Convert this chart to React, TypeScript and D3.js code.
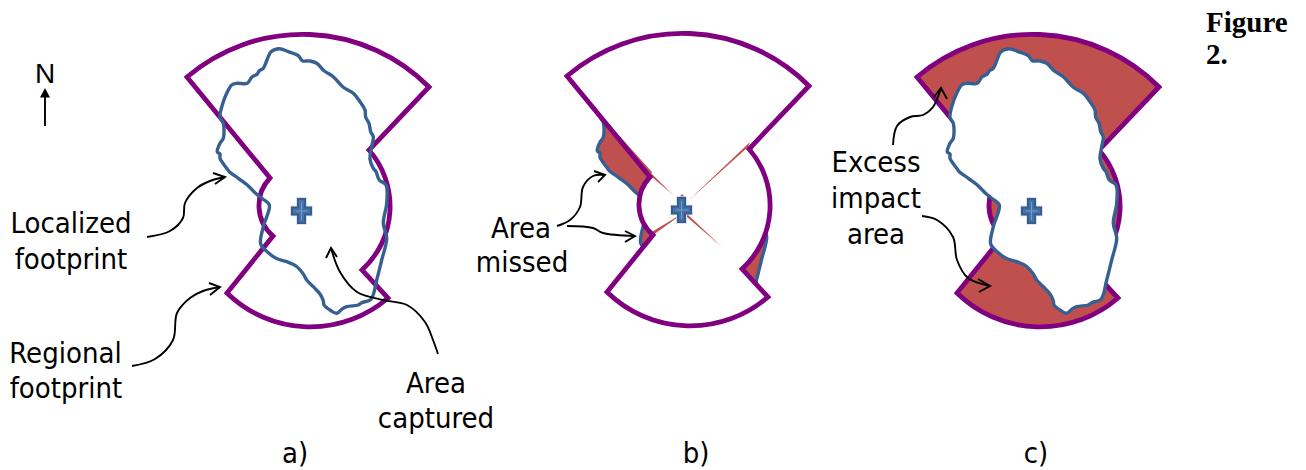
import React from 'react';
import * as d3 from 'd3';

const width = 1306;
const height = 470;

type Pt = [number, number];

// all outlines are read in the frame of panel a), the others are shifted copies
const panelNames = ['a)', 'b)', 'c)'];
const panelShiftX = [0, 380, 730];
const panelShiftY = [0, -1, 0];
const panelLabelX = [295, 696, 1036];

// corners of the regional footprint, clockwise from the NW corner
const regionalCorners: Pt[] = [[187, 77], [429, 87], [369, 150], [362, 270], [388, 298], [227, 293], [273, 236], [270, 178]];
// arc radius leaving each corner, 0 means straight edge
const regionalArcRadii = [178, 0, 86, 0, 119, 0, 40, 0];

const localizedOutline: Pt[] = [
  [279.3, 48.7], [288.3, 51.7], [298.3, 55.7], [302.3, 60.7], [310, 61], [316.7, 63.3], [324, 70.7], [333.3, 76.7],
  [343.3, 87.3], [353.3, 93.3], [360, 101.7], [365, 110], [365.7, 117.3], [369, 123.3], [370.7, 131.7], [373.3, 136.7],
  [371.7, 146.7], [370, 159.3], [373.3, 168.3], [376, 171.7], [379.3, 180], [386, 185], [386.7, 203.3], [383.3, 223.3],
  [386.7, 238.3], [381.7, 260], [376.7, 280], [371, 299.3], [361.7, 302.7], [358.3, 305], [346.7, 306.7], [341.7, 309.3],
  [336.7, 313.3], [330, 310], [324, 305], [323.3, 300.7], [320, 294], [313.3, 286.7], [306.7, 280], [303.3, 274],
  [296, 266], [286.7, 261.7], [276, 258.3], [268.3, 252.7], [260.7, 244], [263.3, 226.7], [269.3, 205], [261.7, 198.3],
  [255, 192.7], [247.3, 185], [238.3, 178.3], [229.3, 171.7], [226.7, 168.3], [220, 158.3], [220, 154], [217.3, 152],
  [220, 143.3], [223.3, 138.3], [223.3, 123.3], [220, 117.3], [222.3, 105], [226.7, 93.3], [231.7, 85], [236.7, 83.3],
  [247.3, 83.3], [251.7, 77.3], [257.3, 74], [259.3, 70.7], [263.3, 68.3], [266.7, 60.7], [271, 51.7],
];

// thin slivers left over in panel b)
const missedSlivers: Pt[][] = [
  [[270, 173], [293, 196], [272, 178]],
  [[225, 121], [272, 173], [270, 176]],
  [[305, 213], [342, 248], [307, 218]],
  [[370, 143], [307, 203], [368, 148]],
  [[270, 234], [305, 213], [262, 244]],
  [[302, 195], [298, 200], [306, 200]],
];

const siteCentre: Pt = [301.5, 211];
const siteArmHalfWidth = 3.5;
const siteArmAcross = 9.5;
const siteArmUp = 12;

// leader lines: points along the curve, then the two ends of the open head
const leaderCurves: Pt[][] = [
  [[147, 237], [170, 231], [183, 218], [185, 203], [197, 188], [210, 181], [225, 177]],
  [[132, 366], [155, 359], [173, 340], [177, 313], [190, 298], [203, 291], [220, 287]],
  [[438, 354], [433, 340], [425, 322], [407, 305], [383, 300], [357, 292], [340, 272], [331, 248]],
  [[557, 226], [570, 220], [580, 207], [583, 187], [593, 176], [605, 175]],
  [[567, 226], [593, 228], [603, 233], [635, 236]],
  [[893, 145], [897, 126], [910, 117], [923, 115], [933, 107], [941, 88]],
  [[922, 216], [937, 220], [953, 237], [957, 260], [968, 278], [990, 286]],
];
const leaderHeads: Pt[][] = [
  [[213, 173], [225, 177], [215, 184]],
  [[209, 283], [220, 287], [210, 295]],
  [[326, 258], [331, 248], [337, 257]],
  [[594, 171], [605, 175], [598, 182]],
  [[625, 231], [635, 236], [625, 242]],
  [[934, 97], [941, 88], [947, 99]],
  [[978, 279], [990, 286], [979, 292]],
];

const northShaft: Pt[] = [[45, 126], [45, 96]];
const northHead: Pt[] = [[40, 97.5], [45, 88], [50, 97.5]];

const labelLines = ['Localized', 'footprint', 'Regional', 'footprint', 'Area', 'captured', 'Area', 'missed', 'Excess', 'impact', 'area'];
const labelX = [71, 71, 65.5, 66, 436, 436, 521, 522, 876, 876, 876];
const labelBaseline = [233, 269, 363, 398, 393, 428, 238, 272, 172, 208, 244];

const labelFont = '"DejaVu Sans Condensed", "DejaVu Sans", sans-serif';
const purple = '#800080';
const blue = '#376092';
const red = '#c0504d';

export default function App() {
  const panels = panelNames.map((_, i) => {
    const x = d3.scaleLinear().domain([0, width]).range([panelShiftX[i], width + panelShiftX[i]]);
    const y = d3.scaleLinear().domain([0, height]).range([panelShiftY[i], height + panelShiftY[i]]);

    const line = d3.line<Pt>().x(d => x(d[0])).y(d => y(d[1]));
    const localized = line.curve(d3.curveCatmullRomClosed.alpha(0.5))(localizedOutline) as string;

    let regional = `M${x(regionalCorners[0][0])},${y(regionalCorners[0][1])}`;
    regionalCorners.forEach((_c, k) => {
      const next = regionalCorners[(k + 1) % regionalCorners.length];
      const r = regionalArcRadii[k];
      regional += r > 0
        ? `A${r},${r} 0 0 1 ${x(next[0])},${y(next[1])}`
        : `L${x(next[0])},${y(next[1])}`;
    });
    regional += 'Z';

    const sliverLine = d3.line<Pt>().x(d => x(d[0])).y(d => y(d[1]));
    const slivers = missedSlivers.map(s => (sliverLine(s) as string) + 'Z');

    const cx = x(siteCentre[0]);
    const cy = y(siteCentre[1]);
    const w = siteArmHalfWidth;
    const h = siteArmAcross;
    const u = siteArmUp;
    const cross = `M${cx - w},${cy - u}H${cx + w}V${cy - w}H${cx + h}V${cy + w}H${cx + w}V${cy + u}H${cx - w}V${cy + w}H${cx - h}V${cy - w}H${cx - w}Z`;

    return { localized, regional, slivers, cross, cx, cy };
  });

  const leaderLine = d3.line<Pt>().curve(d3.curveCatmullRom.alpha(0.5));
  const headLine = d3.line<Pt>();

  const renderSite = (p: typeof panels[number]) => (
    <g>
      <path d={p.cross} fill="none" stroke="#c6d9f1" strokeWidth={3.5} />
      <path d={p.cross} fill="#4472a8" stroke="#385d8a" strokeWidth={2} />
      <path d={`M${p.cx},${p.cy - 9}V${p.cy + 9}M${p.cx - 6},${p.cy}H${p.cx + 6}`} stroke="#6f9bd1" strokeWidth={1} />
    </g>
  );

  return (
    <svg width={width} height={height} viewBox={`0 0 ${width} ${height}`} style={{ position: 'absolute', left: 0, top: 0, background: '#fff' }}>
      {/* a) both footprints, unfilled */}
      <g>
        <path d={panels[0].regional} fill="none" stroke={purple} strokeWidth={4.8} />
        <path d={panels[0].localized} fill="none" stroke={blue} strokeWidth={3.4} />
        {renderSite(panels[0])}
      </g>

      {/* b) localized footprint showing outside the regional one */}
      <g>
        <path d={panels[1].localized} fill={red} stroke={blue} strokeWidth={3.4} />
        <path d={panels[1].regional} fill="#fff" stroke="none" />
        {panels[1].slivers.map((d, i) => <path key={i} d={d} fill={red} />)}
        <path d={panels[1].regional} fill="none" stroke={purple} strokeWidth={4.8} />
        {renderSite(panels[1])}
      </g>

      {/* c) regional footprint showing outside the localized one */}
      <g>
        <path d={panels[2].regional} fill={red} stroke={purple} strokeWidth={4.8} />
        <path d={panels[2].localized} fill="#fff" stroke={blue} strokeWidth={3.4} />
        {renderSite(panels[2])}
      </g>

      {/* leaders */}
      <g fill="none" stroke="#000" strokeWidth={1.9}>
        {leaderCurves.map((c, i) => <path key={i} d={leaderLine(c) as string} />)}
        {leaderHeads.map((c, i) => <path key={i} d={headLine(c) as string} />)}
        <path d={headLine(northShaft) as string} />
      </g>
      <path d={(headLine(northHead) as string) + 'Z'} fill="#000" />

      <text x={35} y={83} fontFamily='"Liberation Sans", sans-serif' fontSize={28}>N</text>

      <g fontFamily={labelFont} fontSize={29} fill="#000" textAnchor="middle">
        {labelLines.map((t, i) => (
          <text key={i} x={labelX[i]} y={labelBaseline[i]}>{t}</text>
        ))}
        {panelNames.map((t, i) => (
          <text key={t} x={panelLabelX[i]} y={463}>{t}</text>
        ))}
      </g>

      <g fontFamily='"Liberation Serif", serif' fontWeight="bold" fontSize={29} fill="#000">
        <text x={1206} y={32}>Figure</text>
        <text x={1206} y={64}>2.</text>
      </g>
    </svg>
  );
}
